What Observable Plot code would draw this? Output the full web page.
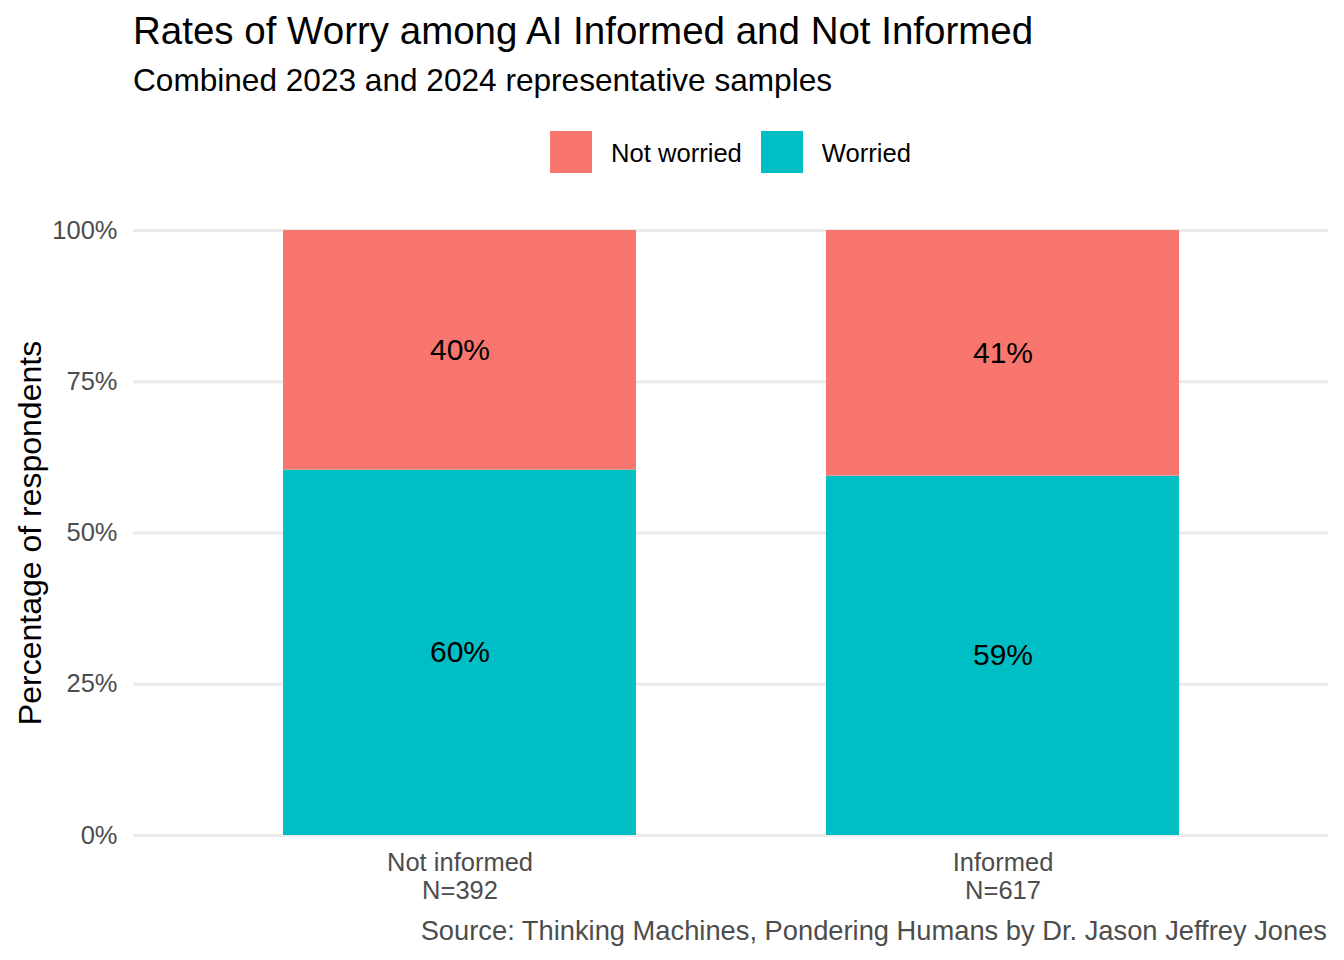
<!DOCTYPE html>
<html>
<head>
<meta charset="utf-8">
<script src="https://cdn.jsdelivr.net/npm/d3@7"></script>
<script src="https://cdn.jsdelivr.net/npm/@observablehq/plot@0.6"></script>
<style>
  html, body { margin: 0; padding: 0; background: #fff; }
  #wrap { position: relative; width: 1344px; height: 960px; font-family: "Liberation Sans", Arial, sans-serif; overflow: hidden; }
  .t { position: absolute; white-space: nowrap; line-height: 1; }
  #title { left: 133px; top: 12px; font-size: 38.5px; color: #000; }
  #subtitle { left: 133px; top: 65px; font-size: 31.6px; color: #000; }
  #legend { position: absolute; left: 133px; width: 1195px; top: 131px; height: 42px; display: flex; justify-content: center; align-items: center; }
  .li { display: flex; align-items: center; margin-right: 19px; }
  .li:last-child { margin-right: 0; }
  .sw { width: 42px; height: 42px; margin-right: 19px; }
  .lt { font-size: 25.6px; color: #000; line-height: 1; position: relative; top: 2px; }
  #caption { right: 17px; top: 917px; font-size: 27.3px; color: #4D4D4D; }
  #chart { position: absolute; left: 0; top: 200px; }
</style>
</head>
<body>
<div id="wrap">
  <div id="title" class="t"></div>
  <div id="subtitle" class="t"></div>
  <div id="legend"></div>
  <div id="chart"></div>
  <div id="caption" class="t"></div>
</div>
<script>
const titleText = "Rates of Worry among AI Informed and Not Informed";
const subtitleText = "Combined 2023 and 2024 representative samples";
const captionText = "Source: Thinking Machines, Pondering Humans by Dr. Jason Jeffrey Jones";
const yLabel = "Percentage of respondents";

const groups = ["Not informed", "Informed"];
const groupN = [392, 617];
const responses = ["Not worried", "Worried"];
const responseColors = ["#F8766D", "#00BFC4"];
const worriedShare = [0.604, 0.594];
const notWorriedShare = [0.396, 0.406];
const yTicks = [0, 0.25, 0.5, 0.75, 1];

document.getElementById("title").textContent = titleText;
document.getElementById("subtitle").textContent = subtitleText;
document.getElementById("caption").textContent = captionText;

const legend = document.getElementById("legend");
responses.forEach((r, i) => {
  const item = document.createElement("div");
  item.className = "li";
  const sw = document.createElement("div");
  sw.className = "sw";
  sw.style.background = responseColors[i];
  const lt = document.createElement("span");
  lt.className = "lt";
  lt.textContent = r;
  item.appendChild(sw);
  item.appendChild(lt);
  legend.appendChild(item);
});

// Worried first so it stacks at the bottom
const data = [];
groups.forEach((g, i) => {
  data.push({group: g, response: "Worried", share: worriedShare[i]});
  data.push({group: g, response: "Not worried", share: notWorriedShare[i]});
});

const xLabel = new Map(groups.map((g, i) => [g, `${g}\nN=${groupN[i]}`]));
const pct = d3.format(".0%");

const chart = Plot.plot({
  width: 1344,
  height: 720,
  marginTop: 30,
  marginBottom: 85,
  marginLeft: 133,
  marginRight: 16,
  style: { fontFamily: "'Liberation Sans', Arial, sans-serif", background: "#fff", overflow: "visible" },
  x: { domain: groups, paddingInner: 0.35, paddingOuter: 0.275, label: null },
  y: { domain: [0, 1], label: null },
  color: { domain: responses, range: responseColors },
  marks: [
    Plot.gridY(yTicks, { stroke: "#EBEBEB", strokeOpacity: 1, strokeWidth: 3 }),
    Plot.barY(data, { x: "group", y: "share", fill: "response" }),
    Plot.text(data, Plot.stackY({ x: "group", y: "share", text: d => pct(d.share), fontSize: 30, fill: "#000" })),
    Plot.axisY(yTicks, { tickSize: 0, tickPadding: 16, tickFormat: d3.format(".0%"), fontSize: 25.5, fill: "#4D4D4D", label: null }),
    Plot.axisX({ tickSize: 0, tickPadding: 16, tickFormat: d => xLabel.get(d), fontSize: 25.5, fill: "#4D4D4D", lineHeight: 1.1, label: null }),
    Plot.text([yLabel], { text: d => d, frameAnchor: "left", textAnchor: "middle", rotate: -90, dx: -103, fontSize: 32, fill: "#000" })
  ]
});
document.getElementById("chart").appendChild(chart);
</script>
</body>
</html>
